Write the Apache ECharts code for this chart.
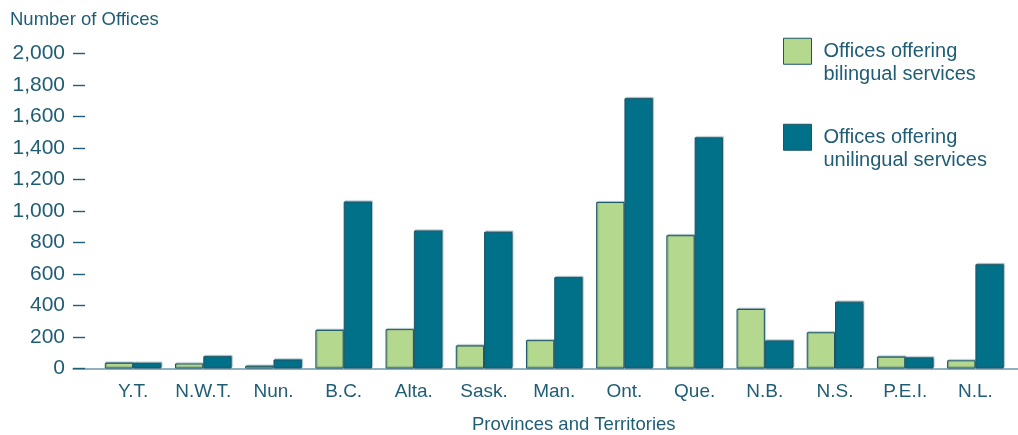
<!DOCTYPE html>
<html>
<head>
<meta charset="utf-8">
<style>
  html, body { margin: 0; padding: 0; background: #ffffff; }
  #chart { width: 1018px; height: 435px; }
</style>
<script src="https://cdn.jsdelivr.net/npm/echarts@6/dist/echarts.min.js"></script>
</head>
<body>
<div id="chart"></div>
<script>
// Offices by province and territory
const categories = ['Y.T.', 'N.W.T.', 'Nun.', 'B.C.', 'Alta.', 'Sask.', 'Man.', 'Ont.', 'Que.', 'N.B.', 'N.S.', 'P.E.I.', 'N.L.'];
const bilingual  = [36, 32, 17, 245, 250, 146, 180, 1057, 846, 378, 230, 75, 52];
const unilingual = [36, 78, 57, 1060, 875, 868, 580, 1716, 1468, 177, 424, 71, 662];
const seriesNames = ['Offices offering\nbilingual services', 'Offices offering\nunilingual services'];
const yMin = 0, yMax = 2000, yStep = 200;

const FONT = '"Liberation Sans", Arial, Helvetica, sans-serif';
const TEXT = '#1f5d75';
const GREEN = '#b4d88d';
const TEAL = '#01718a';
const EDGE = '#1c5566';

const chart = echarts.init(document.getElementById('chart'), null, { renderer: 'canvas' });

const barStyle = (fill) => ({
  color: fill,
  borderColor: EDGE,
  borderWidth: 1,
  shadowColor: 'rgba(40, 95, 115, 0.45)',
  shadowBlur: 1,
  shadowOffsetX: 1,
  shadowOffsetY: -1
});

// The swatch sits beside the first line of its two-line label:
// a blank leading line puts that first line on the swatch's centre.
const legendCommon = {
  orient: 'vertical',
  icon: 'rect',
  padding: 0,
  itemWidth: 28,
  itemHeight: 26,
  itemGap: 10,
  selectedMode: false,
  formatter: (name) => ' \n' + name,
  textStyle: { fontFamily: FONT, fontSize: 20, color: TEXT, lineHeight: 23.5, padding: [0, 0, 0, 7] },
  itemStyle: { borderColor: EDGE, borderWidth: 1 }
};

chart.setOption({
  animation: false,
  backgroundColor: '#ffffff',
  title: [
    { text: 'Number of Offices', left: 10, top: 10, padding: 0,
      textStyle: { fontFamily: FONT, fontSize: 18.5, fontWeight: 'normal', color: TEXT } },
    { text: 'Provinces and Territories', left: 472, top: 415, padding: 0,
      textStyle: { fontFamily: FONT, fontSize: 18.5, fontWeight: 'normal', color: TEXT } }
  ],
  legend: [
    Object.assign({ data: [seriesNames[0]], left: 783, top: 16 }, legendCommon),
    Object.assign({ data: [seriesNames[1]], left: 783, top: 102 }, legendCommon)
  ],
  grid: [
    // value scale and baseline
    { left: 73, right: 0, top: 53.5, bottom: 66.5 },
    // bars
    { left: 98, right: 7.5, top: 53.5, bottom: 66.5 }
  ],
  xAxis: [
    { gridIndex: 0, type: 'value', min: 0, max: 1,
      axisLine: { show: true, lineStyle: { color: '#6a98a8', width: 1.5 } },
      axisTick: { show: false }, axisLabel: { show: false }, splitLine: { show: false } },
    { gridIndex: 1, type: 'category', data: categories,
      axisLine: { show: false }, axisTick: { show: false },
      axisLabel: { interval: 0, margin: 14, fontFamily: FONT, fontSize: 19, color: TEXT } }
  ],
  yAxis: [
    { gridIndex: 0, type: 'value', min: yMin, max: yMax, interval: yStep,
      axisLine: { show: false },
      axisTick: { show: true, inside: true, length: 12, lineStyle: { color: TEXT, width: 1.4 } },
      axisLabel: { margin: 8, fontFamily: FONT, fontSize: 21, color: TEXT,
        formatter: (v) => v.toLocaleString('en-US') },
      splitLine: { show: false } },
    { gridIndex: 1, type: 'value', min: yMin, max: yMax, interval: yStep, show: false,
      splitLine: { show: false } }
  ],
  series: [
    { name: seriesNames[0], type: 'bar', xAxisIndex: 1, yAxisIndex: 1, data: bilingual,
      barGap: '0%', barCategoryGap: '19.4%', itemStyle: barStyle(GREEN) },
    { name: seriesNames[1], type: 'bar', xAxisIndex: 1, yAxisIndex: 1, data: unilingual,
      barGap: '0%', barCategoryGap: '19.4%', itemStyle: barStyle(TEAL) }
  ]
});
</script>
</body>
</html>
